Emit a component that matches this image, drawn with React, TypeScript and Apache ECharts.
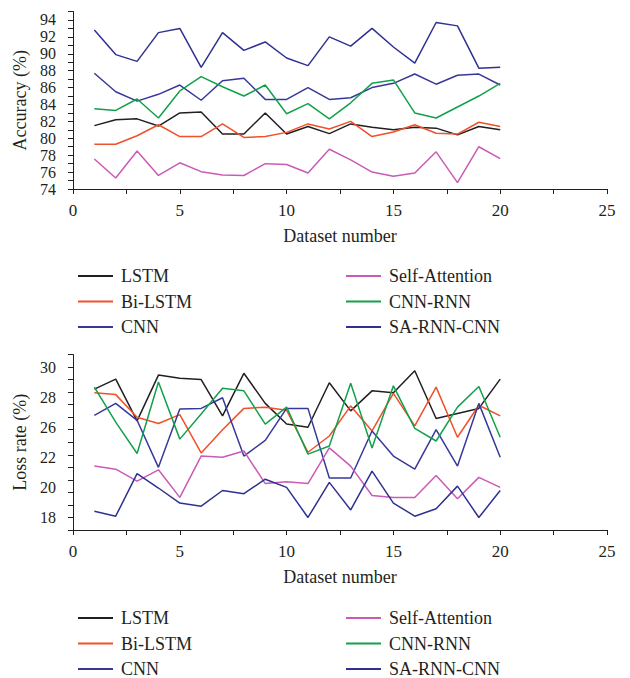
import React, { useEffect, useRef } from 'react';
import * as echarts from 'echarts';

const datasetNumbers = [1, 2, 3, 4, 5, 6, 7, 8, 9, 10, 11, 12, 13, 14, 15, 16, 17, 18, 19, 20];
const seriesNames = ['LSTM', 'Bi-LSTM', 'CNN', 'Self-Attention', 'CNN-RNN', 'SA-RNN-CNN'];
const seriesColors = ['#231f20', '#f0502a', '#37399a', '#c95bb6', '#12a14b', '#2e3192'];

const accLSTM = [81.5, 82.2, 82.3, 81.45, 83.0, 83.1, 80.5, 80.5, 83.0, 80.5, 81.4, 80.55, 81.7, 81.3, 81.0, 81.3, 81.2, 80.4, 81.4, 81.0];
const accBiLSTM = [79.3, 79.3, 80.3, 81.6, 80.2, 80.2, 81.7, 80.1, 80.2, 80.7, 81.7, 81.1, 82.0, 80.2, 80.75, 81.6, 80.6, 80.5, 81.9, 81.4];
const accCNN = [87.7, 85.5, 84.4, 85.2, 86.3, 84.5, 86.8, 87.1, 84.6, 84.6, 86.0, 84.6, 84.8, 86.0, 86.5, 87.6, 86.4, 87.45, 87.6, 86.3];
const accSelfAttention = [77.55, 75.3, 78.5, 75.6, 77.1, 76.05, 75.65, 75.6, 77.0, 76.9, 75.9, 78.7, 77.45, 76.0, 75.5, 75.9, 78.4, 74.75, 79.0, 77.6];
const accCNNRNN = [83.5, 83.3, 84.65, 82.4, 85.6, 87.3, 86.1, 85.0, 86.3, 82.9, 84.1, 82.3, 84.2, 86.5, 86.9, 83.0, 82.4, 83.7, 85.0, 86.5];
const accSARNNCNN = [92.8, 89.9, 89.1, 92.5, 93.0, 88.4, 92.5, 90.4, 91.4, 89.5, 88.6, 92.0, 90.9, 93.0, 90.8, 88.9, 93.7, 93.3, 88.3, 88.4];

const lossLSTM = [28.24, 29.04, 25.7, 29.36, 29.1, 29.0, 26.1, 29.5, 27.1, 25.45, 25.2, 28.75, 26.5, 28.1, 27.95, 29.7, 25.9, 26.3, 26.7, 29.04];
const lossBiLSTM = [27.95, 27.8, 26.0, 25.5, 26.2, 23.15, 25.0, 26.7, 26.8, 26.55, 23.2, 24.5, 26.9, 24.9, 27.9, 25.3, 28.4, 24.4, 26.95, 26.1];
const lossCNN = [26.15, 27.1, 25.75, 22.0, 26.65, 26.7, 27.55, 22.9, 24.15, 26.7, 26.7, 21.15, 21.15, 24.9, 22.9, 21.85, 25.0, 22.1, 27.1, 22.8];
const lossSelfAttention = [22.1, 21.85, 20.9, 21.8, 19.6, 22.9, 22.8, 23.3, 20.7, 20.85, 20.7, 23.55, 22.1, 19.75, 19.6, 19.6, 21.35, 19.5, 21.2, 20.4];
const lossCNNRNN = [28.4, 25.6, 23.1, 28.8, 24.25, 26.25, 28.3, 28.1, 25.45, 26.8, 23.05, 23.7, 28.7, 23.55, 28.5, 25.1, 24.1, 26.8, 28.45, 24.4];
const lossSARNNCNN = [18.5, 18.1, 21.5, 20.35, 19.15, 18.9, 20.15, 19.9, 21.05, 20.4, 18.0, 20.8, 18.6, 21.7, 19.15, 18.1, 18.7, 20.5, 18.0, 20.15];

// tick labels printed on the loss axis in the original figure
const lossTickLabels = ['18', '20', '22', '26', '28', '30'];

const accuracySeries = [accLSTM, accBiLSTM, accCNN, accSelfAttention, accCNNRNN, accSARNNCNN];
const lossSeries = [lossLSTM, lossBiLSTM, lossCNN, lossSelfAttention, lossCNNRNN, lossSARNNCNN];

const FONT = '"Liberation Serif", "Times New Roman", serif';
const INK = '#231f20';

export default function App() {
  const ref = useRef<HTMLDivElement>(null);

  useEffect(() => {
    document.body.style.margin = '0';
    const chart = echarts.init(ref.current!, null, { renderer: 'svg' });

    const nameStyle = { fontFamily: FONT, fontSize: 18, color: INK };
    const tickStyle = { fontFamily: FONT, fontSize: 16, lineHeight: 16, color: INK };
    const lineStyle = { color: INK, width: 1 };

    const makeX = (gridIndex: number) => ({
      type: 'value',
      gridIndex,
      min: 0,
      max: 25,
      interval: 5,
      name: 'Dataset number',
      nameLocation: 'middle',
      nameGap: 38,
      nameTextStyle: nameStyle,
      axisLine: { show: true, onZero: false, lineStyle },
      axisTick: { show: true, length: 5, lineStyle },
      minorTick: { show: true, splitNumber: 2, length: 5, lineStyle },
      splitLine: { show: false },
      axisLabel: { ...tickStyle, fontSize: 17, lineHeight: 17, margin: 13 },
    });

    const legendBase = {
      orient: 'vertical',
      icon: 'rect',
      itemWidth: 35,
      itemHeight: 2,
      itemGap: 7.5,
      height: 100,
      textStyle: { ...nameStyle, lineHeight: 18, padding: [0, 0, 0, 3] },
      selectedMode: false,
    };

    const series: any[] = [];
    seriesNames.forEach((name, k) => {
      series.push({
        type: 'line',
        name,
        xAxisIndex: 0,
        yAxisIndex: 0,
        data: datasetNumbers.map((x, i) => [x, accuracySeries[k][i]]),
        symbol: 'none',
        lineStyle: { width: 1.5, color: seriesColors[k] },
        itemStyle: { color: seriesColors[k] },
      });
    });
    seriesNames.forEach((name, k) => {
      series.push({
        type: 'line',
        name,
        xAxisIndex: 1,
        yAxisIndex: 1,
        data: datasetNumbers.map((x, i) => [x, lossSeries[k][i]]),
        symbol: 'none',
        lineStyle: { width: 1.5, color: seriesColors[k] },
        itemStyle: { color: seriesColors[k] },
      });
    });

    chart.setOption({
      animation: false,
      backgroundColor: '#ffffff',
      grid: [
        { left: 73, top: 11.5, width: 534, height: 177.5 },
        { left: 73, top: 354.5, width: 534, height: 175.5 },
        { left: 73, top: 367, width: 1, height: 150 },
      ],
      xAxis: [
        makeX(0),
        makeX(1),
        { type: 'value', gridIndex: 2, show: false, min: 0, max: 1 },
      ],
      yAxis: [
        {
          type: 'value',
          gridIndex: 0,
          min: 74,
          max: 95,
          interval: 1,
          name: 'Accuracy (%)',
          nameLocation: 'middle',
          nameGap: 44,
          nameTextStyle: nameStyle,
          axisLine: { show: true, onZero: false, lineStyle },
          axisTick: { show: true, length: 5, lineStyle },
          splitLine: { show: false },
          axisLabel: {
            ...tickStyle,
            margin: 17,
            formatter: (v: number) => (v % 2 === 0 && v <= 94 ? String(v) : ''),
          },
        },
        {
          type: 'value',
          gridIndex: 1,
          min: 17,
          max: 31,
          interval: 1,
          name: 'Loss rate (%)',
          nameLocation: 'middle',
          nameGap: 44,
          nameTextStyle: nameStyle,
          axisLine: { show: true, onZero: false, lineStyle },
          axisTick: { show: true, length: 5, lineStyle },
          splitLine: { show: false },
          axisLabel: { show: false },
        },
        {
          type: 'category',
          gridIndex: 2,
          data: lossTickLabels,
          boundaryGap: false,
          axisLine: { show: false },
          axisTick: { show: false },
          splitLine: { show: false },
          axisLabel: { ...tickStyle, margin: 17 },
        },
      ],
      legend: [
        { ...legendBase, left: 73, top: 262, data: seriesNames.slice(0, 3) },
        { ...legendBase, left: 341, top: 262, data: seriesNames.slice(3, 6) },
        { ...legendBase, left: 73, top: 604, data: seriesNames.slice(0, 3) },
        { ...legendBase, left: 341, top: 604, data: seriesNames.slice(3, 6) },
      ],
      series,
    });

    return () => chart.dispose();
  }, []);

  return <div ref={ref} style={{ width: 630, height: 678 }} />;
}
